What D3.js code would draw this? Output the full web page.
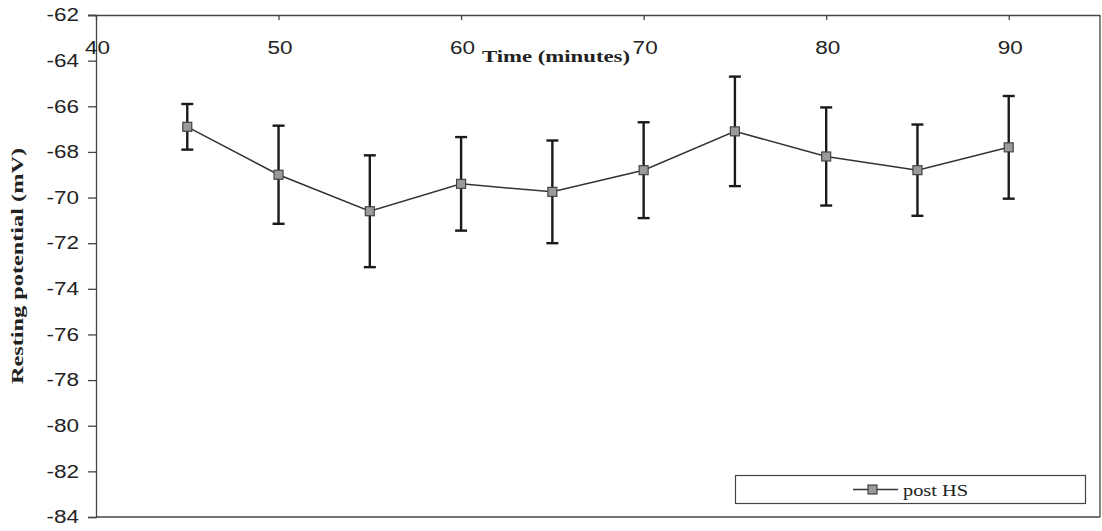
<!DOCTYPE html>
<html>
<head>
<meta charset="utf-8">
<script src="https://cdn.jsdelivr.net/npm/d3@7"></script>
<style>
  html, body { margin: 0; padding: 0; background: #fff; }
  svg { display: block; }
  .tick text { font-family: "Liberation Sans", Arial, sans-serif; font-size: 18px; fill: #222; }
</style>
</head>
<body>
<svg id="chart" width="1102" height="531"></svg>
<script>
// Resting potential after heat shock, mean ± error per time point
const times = [45, 50, 55, 60, 65, 70, 75, 80, 85, 90];
const meanMv = [-66.9, -69.0, -70.6, -69.4, -69.75, -68.8, -67.1, -68.2, -68.8, -67.8];
const errMv = [1.0, 2.15, 2.45, 2.05, 2.25, 2.1, 2.4, 2.15, 2.0, 2.25];
const xTicks = [40, 50, 60, 70, 80, 90];
const yTicks = [-62, -64, -66, -68, -70, -72, -74, -76, -78, -80, -82, -84];
const seriesName = "post HS";

(function () {
  const svg = d3.select("#chart");
  const plotLeft = 96, plotRight = 1100, plotTop = 15, plotBottom = 517;
  const serif = "'Liberation Serif', 'Times New Roman', serif";

  // widen text horizontally by a factor, keeping its anchor
  function widen(sel, k) {
    sel.each(function () {
      const len = this.getComputedTextLength();
      d3.select(this).attr("textLength", len * k).attr("lengthAdjust", "spacingAndGlyphs");
    });
  }

  const x = d3.scaleLinear().domain([40, 95]).range([plotLeft, plotRight]);
  const y = d3.scaleLinear().domain([-84, -62]).range([plotBottom, plotTop]);

  // plot frame (right and bottom edges)
  svg.append("line").attr("x1", plotRight).attr("x2", plotRight).attr("y1", plotTop).attr("y2", plotBottom)
    .attr("stroke", "#444").attr("stroke-width", 1.3);
  svg.append("line").attr("x1", plotLeft).attr("x2", plotRight).attr("y1", plotBottom).attr("y2", plotBottom)
    .attr("stroke", "#444").attr("stroke-width", 1.3);

  // y axis
  const yAxis = svg.append("g").attr("transform", `translate(${plotLeft},0)`)
    .call(d3.axisLeft(y).tickValues(yTicks).tickSize(8).tickPadding(9).tickFormat(d => String(d)));
  yAxis.selectAll("path, line").attr("stroke", "#444").attr("stroke-width", 1.3);
  widen(yAxis.selectAll(".tick text"), 1.25);

  // x axis drawn along the top edge, labels hanging below it
  const xAxis = svg.append("g").attr("transform", `translate(0,${plotTop})`)
    .call(d3.axisBottom(x).tickValues(xTicks).tickSize(5).tickPadding(21).tickSizeOuter(0));
  xAxis.select(".domain").attr("d", `M${plotLeft - 8},0.5H${plotRight}`);
  xAxis.selectAll("path, line").attr("stroke", "#444").attr("stroke-width", 1.3);
  xAxis.selectAll(".tick text").attr("dx", 1);
  widen(xAxis.selectAll(".tick text"), 1.25);

  // axis titles
  const xt = svg.append("text").attr("x", 556).attr("y", 62).attr("text-anchor", "middle")
    .style("font-family", serif).style("font-weight", "bold")
    .style("font-size", "17px").attr("fill", "#222").text("Time (minutes)");
  xt.attr("textLength", 148).attr("lengthAdjust", "spacingAndGlyphs");
  const yt = svg.append("text").attr("transform", "translate(23,266) rotate(-90)").attr("text-anchor", "middle")
    .style("font-family", serif).style("font-weight", "bold")
    .style("font-size", "17px").attr("fill", "#222").text("Resting potential (mV)");
  yt.attr("textLength", 236).attr("lengthAdjust", "spacingAndGlyphs");

  const data = times.map((t, i) => ({ t, m: meanMv[i], e: errMv[i] }));

  // error bars
  const eb = svg.append("g").attr("stroke", "#1a1a1a").attr("stroke-width", 2.4);
  data.forEach(d => {
    const cx = x(d.t);
    eb.append("line").attr("x1", cx).attr("x2", cx).attr("y1", y(d.m + d.e)).attr("y2", y(d.m - d.e));
    eb.append("line").attr("x1", cx - 6).attr("x2", cx + 6).attr("y1", y(d.m + d.e)).attr("y2", y(d.m + d.e));
    eb.append("line").attr("x1", cx - 6).attr("x2", cx + 6).attr("y1", y(d.m - d.e)).attr("y2", y(d.m - d.e));
  });

  // series line
  svg.append("path").datum(data)
    .attr("fill", "none").attr("stroke", "#333").attr("stroke-width", 1.5)
    .attr("d", d3.line().x(d => x(d.t)).y(d => y(d.m)));

  // markers
  svg.append("g").selectAll("rect").data(data).join("rect")
    .attr("x", d => x(d.t) - 4.5).attr("y", d => y(d.m) - 4.5)
    .attr("width", 9).attr("height", 9)
    .attr("fill", "#9a9a9a").attr("stroke", "#444").attr("stroke-width", 1.2);

  // legend
  const lg = svg.append("g");
  lg.append("rect").attr("x", 735.5).attr("y", 475.5).attr("width", 350).attr("height", 28)
    .attr("fill", "#fff").attr("stroke", "#444").attr("stroke-width", 1.2);
  lg.append("line").attr("x1", 853).attr("x2", 898).attr("y1", 489.5).attr("y2", 489.5)
    .attr("stroke", "#333").attr("stroke-width", 1.6);
  lg.append("rect").attr("x", 868).attr("y", 485).attr("width", 9).attr("height", 9)
    .attr("fill", "#9a9a9a").attr("stroke", "#444").attr("stroke-width", 1.2);
  lg.append("text").attr("x", 903).attr("y", 496)
    .style("font-family", serif)
    .style("font-size", "17px").attr("fill", "#222").text(seriesName)
    .attr("textLength", 65).attr("lengthAdjust", "spacingAndGlyphs");
})();
</script>
</body>
</html>
